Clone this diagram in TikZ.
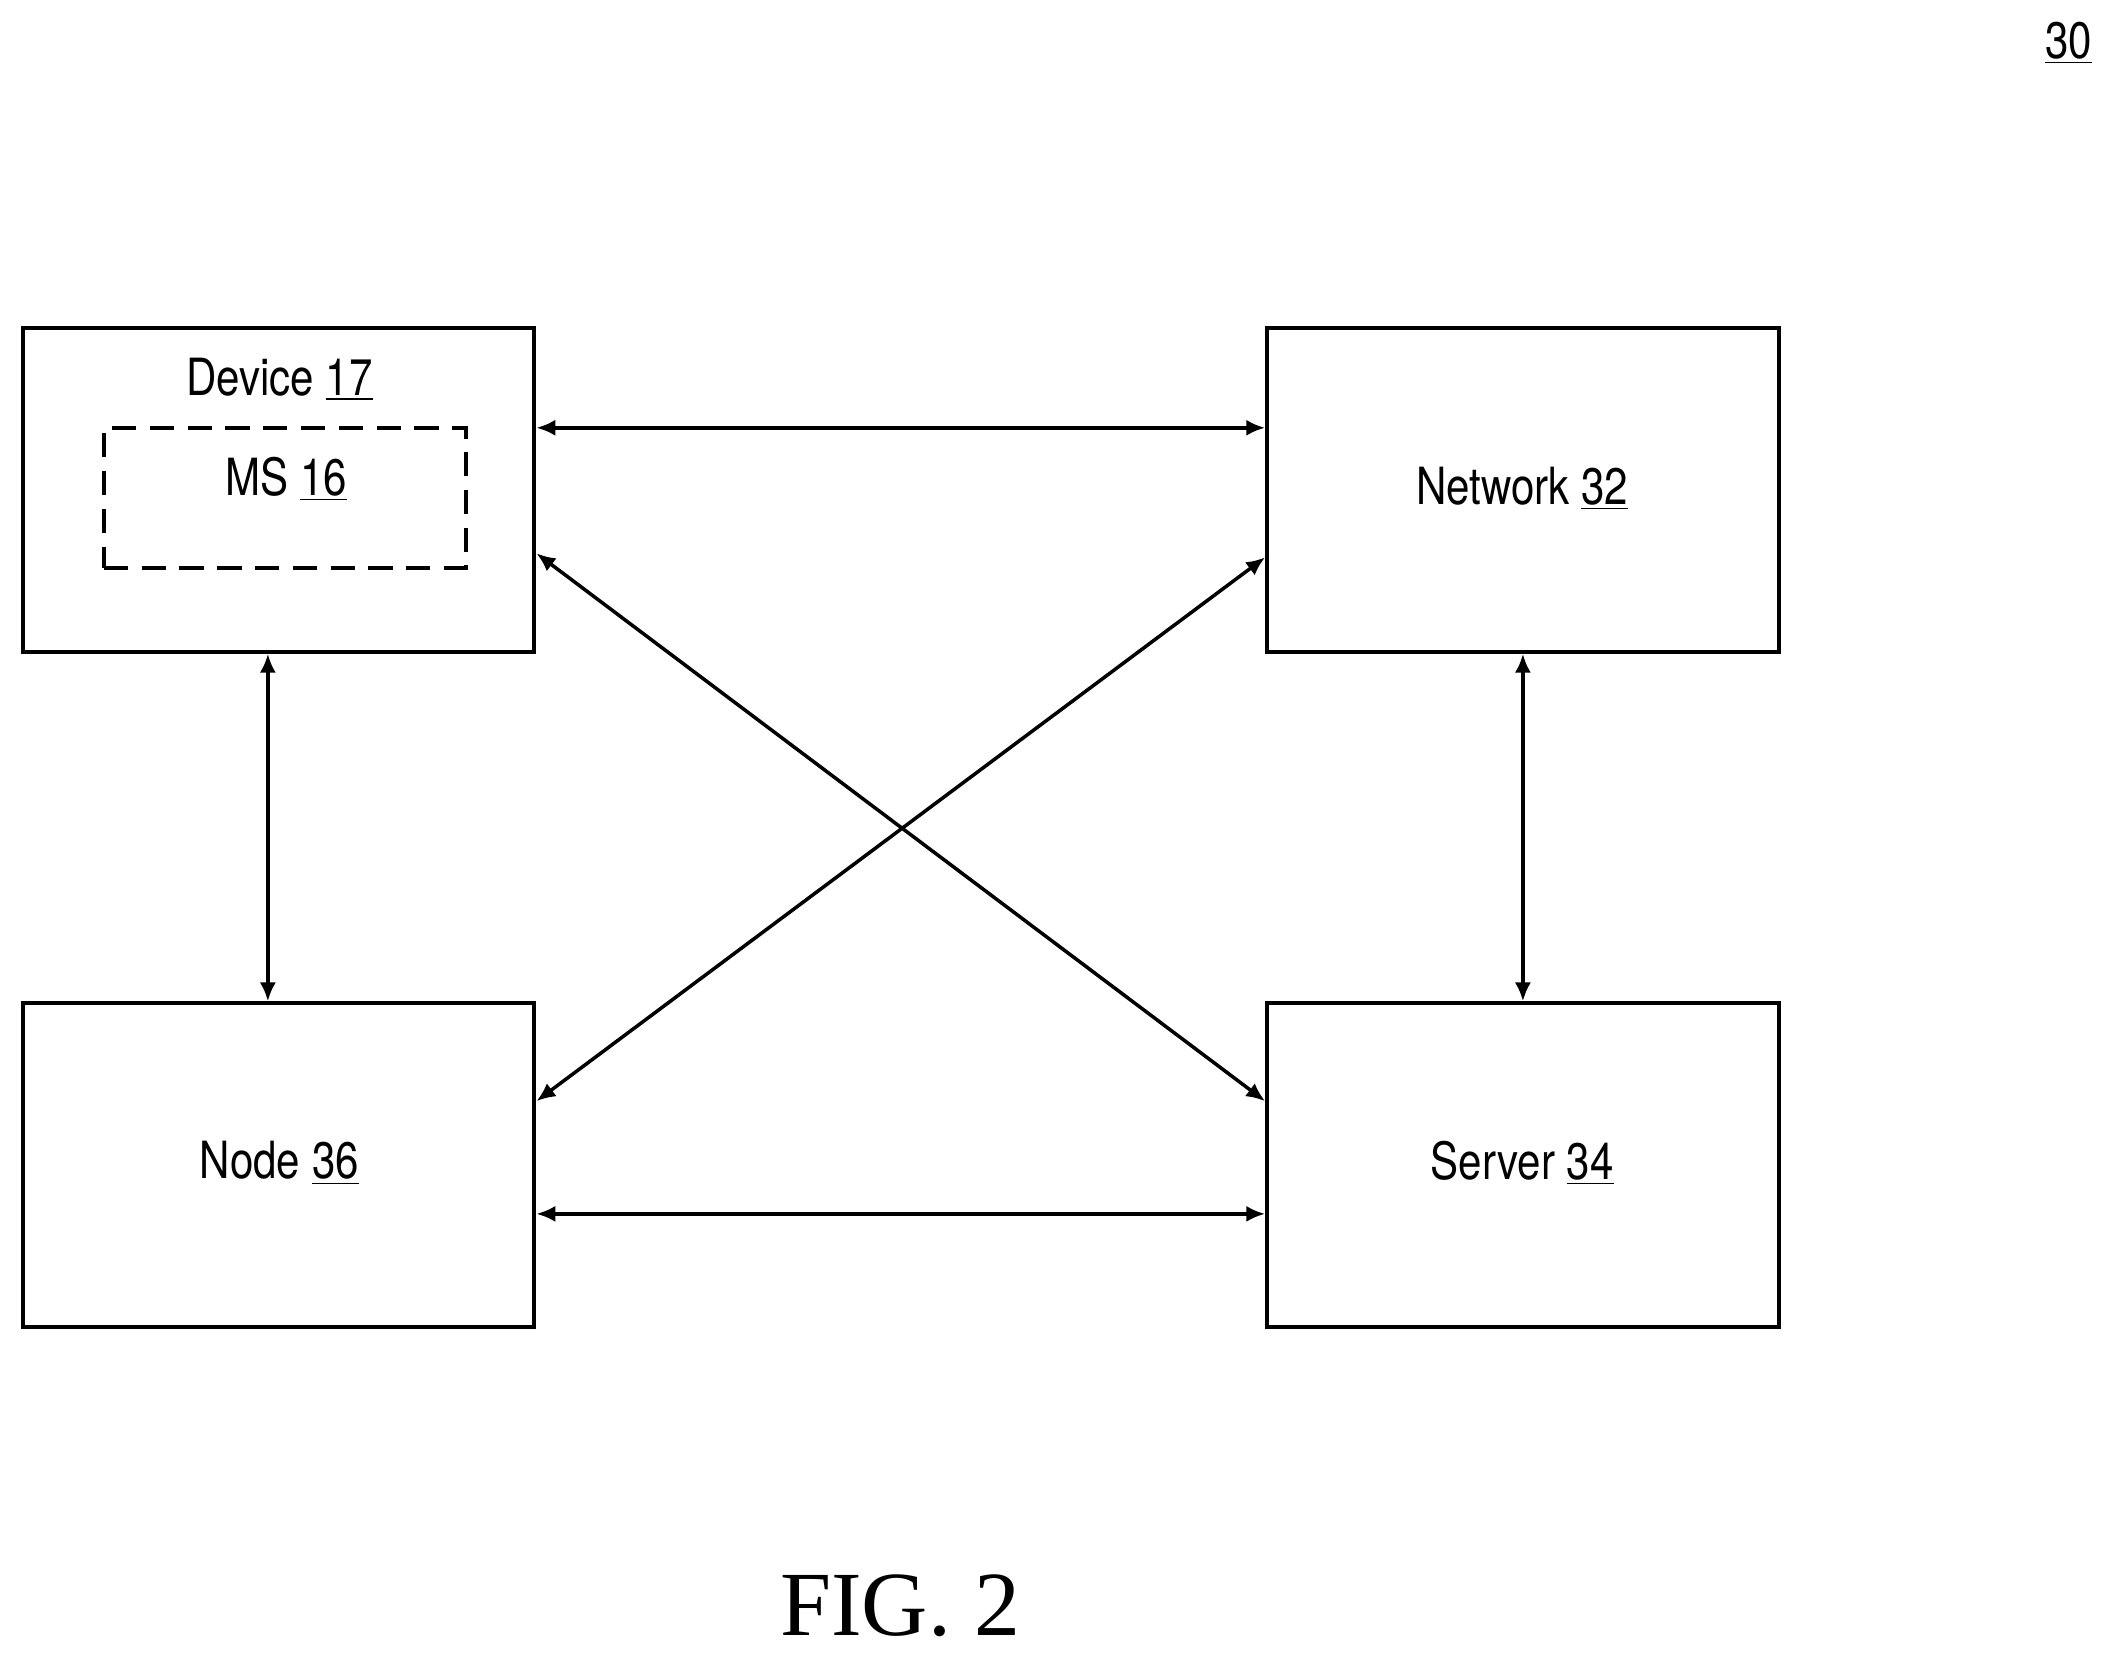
\documentclass[tikz,border=0pt]{standalone}
\usepackage{fontspec}
\setmainfont{TeX Gyre Heros}[FakeStretch=0.82]
\newfontfamily\figfont{Liberation Serif}
\usetikzlibrary{arrows.meta}
\begin{document}
\begin{tikzpicture}[x=0.5pt,y=-0.5pt,
 box/.style={draw,line width=1.5pt,minimum width=189.5pt,minimum height=120pt,inner sep=0pt},
 lbl/.style={font=\fontsize{19}{22}\selectfont,inner sep=0pt},
 con/.style={line width=1.3pt,{Latex[length=7pt,width=6pt]}-{Latex[length=7pt,width=6pt]}}]
\useasboundingbox (0,0) rectangle (1568,1230);
\node[box] (dev) at (206.5,363) {};
\node[box] (net) at (1128.5,363) {};
\node[box] (nod) at (206.5,863.5) {};
\node[box] (ser) at (1128.5,863.5) {};
\node[draw,dashed,dash pattern=on 9pt off 5pt,line width=1.5pt,minimum width=134pt,minimum height=52pt,inner sep=0pt] (ms) at (211,369) {};
\node[lbl] (devl) at (207,281) {Device \underline{17}};
\node[lbl] (msl) at (212,355) {MS \underline{16}};
\node[lbl] (netl) at (1128,362) {Network \underline{32}};
\node[lbl] (nodl) at (207,862) {Node \underline{36}};
\node[lbl] (serl) at (1128,862) {Server \underline{34}};
\node[lbl] (ref) at (1533,32) {\underline{30}};
\node[inner sep=0pt,font=\figfont\fontsize{34}{40}\selectfont] (fig) at (667,1190) {FIG. 2};
\draw[con] ([yshift=23pt]dev.east) -- ([yshift=23pt]net.west);
\draw[con] ([yshift=-18pt]nod.east) -- ([yshift=-18pt]ser.west);
\draw[con] ([xshift=-4pt]dev.south) -- ([xshift=-4pt]nod.north);
\draw[con] (net.south) -- (ser.north);
\draw[con] ([yshift=-23.5pt]dev.east) -- ([yshift=23.75pt]ser.west);
\draw[con] ([yshift=23.75pt]nod.east) -- ([yshift=-25pt]net.west);
\end{tikzpicture}
\end{document}
